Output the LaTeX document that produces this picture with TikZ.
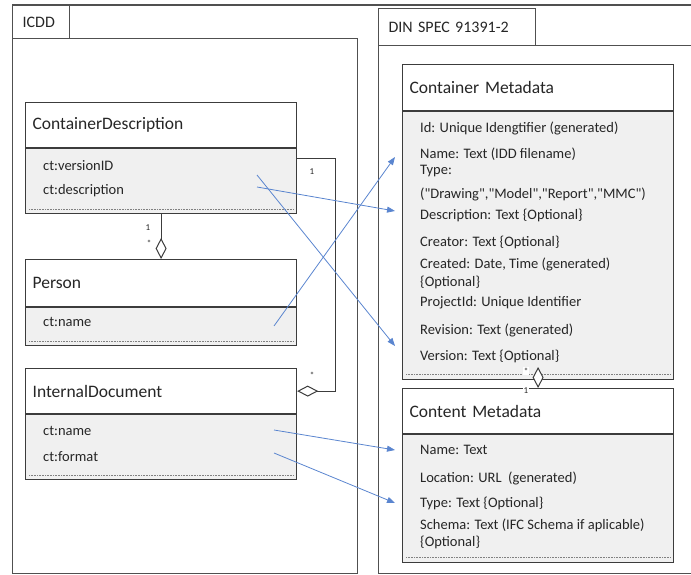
\documentclass[tikz,border=0pt]{standalone}
\usepackage{fontspec}
\setmainfont{Carlito}
\usepackage{tikz}
\usetikzlibrary{positioning,arrows.meta}
\definecolor{boxline}{HTML}{3C3C3C}
\definecolor{pkgline}{HTML}{505050}
\definecolor{attrfill}{HTML}{F0F0F0}
\definecolor{linkblue}{HTML}{5A85CF}
\definecolor{txt}{HTML}{262626}
\tikzset{pkgtab/.style={draw=pkgline,line width=1.2pt,anchor=north west,inner xsep=10pt,inner ysep=0pt,align=left,text=txt,font=\fontsize{16}{19}\selectfont},
pkgbody/.style={draw=pkgline,line width=1.2pt,anchor=north west,inner sep=0pt},
classhead/.style={draw=boxline,line width=1.2pt,fill=white,anchor=north west,inner xsep=7pt,inner ysep=0pt,text width=257pt,align=left,text=txt,font=\fontsize{17.5}{20}\selectfont},
classbody/.style={draw=boxline,line width=1.2pt,fill=attrfill,anchor=north,minimum width=271pt,inner sep=0pt},
attr/.style={anchor=west,inner sep=0pt,text=txt,font=\fontsize{14.5}{17}\selectfont},
mult/.style={inner sep=0.5pt,text=txt,font=\fontsize{9}{10}\selectfont},
dotline/.style={draw=gray,line width=1pt,dash pattern=on 0.8pt off 0.8pt},
aggr/.style={draw=boxline,line width=1pt,-{Diamond[fill=white,length=21pt,width=11pt]}},
link/.style={draw=linkblue,line width=0.8pt,-{Triangle[length=8pt,width=6pt]}}}

\begin{document}
\begin{tikzpicture}[x=1pt,y=-1pt]
\clip (0,0) rectangle (691,575);
% packages
\node[pkgbody,minimum width=345pt,minimum height=535pt] (icdd) at (12,38) {};
\node[pkgtab,text width=37pt,minimum height=33pt] (icddtab) at (12,5) {ICDD};
\node[pkgbody,minimum width=330pt,minimum height=528pt] (din) at (378,45) {};
\node[pkgtab,text width=137pt,minimum height=37pt] (dintab) at (378,8) {DIN SPEC 91391-2};
\draw[pkgline,line width=1.2pt] (icddtab.north west) -- (691,5);

% ICDD classes
\node[classhead,minimum height=45pt] (cdhead) at (25,102) {ContainerDescription};
\node[classbody,below=0pt of cdhead,minimum height=65pt] (cdbody) {};
\node[attr] (cdver) at (43,166) {ct:versionID};
\node[attr] (cddesc) at (43,191) {ct:description};
\draw[dotline] ([xshift=4pt,yshift=5pt]cdbody.south west) -- ([xshift=-4pt,yshift=5pt]cdbody.south east);

\node[classhead,minimum height=47pt] (phead) at (25,259) {Person};
\node[classbody,below=0pt of phead,minimum height=38pt] (pbody) {};
\node[attr] (pname) at (43,322) {ct:name};
\draw[dotline] ([xshift=4pt,yshift=5pt]pbody.south west) -- ([xshift=-4pt,yshift=5pt]pbody.south east);

\node[classhead,minimum height=45pt] (idhead) at (25,368) {InternalDocument};
\node[classbody,below=0pt of idhead,minimum height=65pt] (idbody) {};
\node[attr] (idname) at (43,431) {ct:name};
\node[attr] (idfmt) at (43,457) {ct:format};
\draw[dotline] ([xshift=4pt,yshift=5pt]idbody.south west) -- ([xshift=-4pt,yshift=5pt]idbody.south east);

% DIN classes
\node[classhead,minimum height=46pt] (cmhead) at (402,64) {Container Metadata};
\node[classbody,below=0pt of cmhead,minimum height=268pt] (cmbody) {};
\node[attr] (cmid) at (420,128) {Id: Unique Idengtifier (generated)};
\node[attr] (cmname) at (420,154) {Name: Text (IDD filename)};
\node[attr] (cmtype) at (420,171) {Type:};
\node[attr] (cmtypes) at (420,194) {(\textquotedbl Drawing\textquotedbl,\textquotedbl Model\textquotedbl,\textquotedbl Report\textquotedbl,\textquotedbl MMC\textquotedbl)};
\node[attr] (cmdesc) at (420,215) {Description: Text \{Optional\}};
\node[attr] (cmcreator) at (420,242) {Creator: Text \{Optional\}};
\node[attr] (cmcreated) at (420,264) {Created: Date, Time (generated)};
\node[attr] (cmcreatedopt) at (420,282) {\{Optional\}};
\node[attr] (cmproj) at (420,303) {ProjectId: Unique Identifier};
\node[attr] (cmrev) at (420,330) {Revision: Text (generated)};
\node[attr] (cmver) at (420,356) {Version: Text \{Optional\}};
\draw[dotline] ([xshift=4pt,yshift=6pt]cmbody.south west) -- ([xshift=-4pt,yshift=6pt]cmbody.south east);

\node[classhead,minimum height=45pt] (cthead) at (402,388) {Content Metadata};
\node[classbody,below=0pt of cthead,minimum height=128pt] (ctbody) {};
\node[attr] (ctname) at (420,450) {Name: Text};
\node[attr] (ctloc) at (420,478) {Location: URL\ \ (generated)};
\node[attr] (cttype) at (420,503) {Type: Text \{Optional\}};
\node[attr] (ctschema) at (420,525) {Schema: Text (IFC Schema if aplicable)};
\node[attr] (ctschemaopt) at (420,542) {\{Optional\}};
\draw[dotline] ([xshift=4pt,yshift=6pt]ctbody.south west) -- ([xshift=-4pt,yshift=6pt]ctbody.south east);

% aggregations
\draw[aggr] (cdbody.south) -- (phead.north);
\node[mult] (cdp1) at (148,228) {1};
\node[mult] (cdpn) at (149,243) {*};
\draw[aggr] ([yshift=-10pt]cdbody.north east) -- ++(38,0) |- (idhead.east);
\node[mult] (cdid1) at (312,172) {1};
\node[mult] (cdidn) at (312,375) {*};
\node[mult,fill=white] (cmctn) at (526,371) {*};
\node[mult,fill=white] (cmct1) at (526,391) {1};
\draw[aggr] ([yshift=11pt]cmbody.south) -- (cthead.north);

% mappings
\coordinate (cdverpt) at (257,175);
\coordinate (cddescpt) at (257,187);
\coordinate (pnamept) at (274,326);
\coordinate (idnamept) at (274,430);
\coordinate (idfmtpt) at (274,453);
\draw[link] (cdverpt) -- ([xshift=-25pt,yshift=10pt]cmver.west);
\draw[link] (cddescpt) -- ([xshift=-25pt,yshift=4pt]cmdesc.west);
\draw[link] (pnamept) -- ([xshift=-25pt,yshift=-3pt]cmname.west);
\draw[link] (idnamept) -- ([xshift=-25pt]ctname.west);
\draw[link] (idfmtpt) -- ([xshift=-25pt]cttype.west);
\end{tikzpicture}
\end{document}
